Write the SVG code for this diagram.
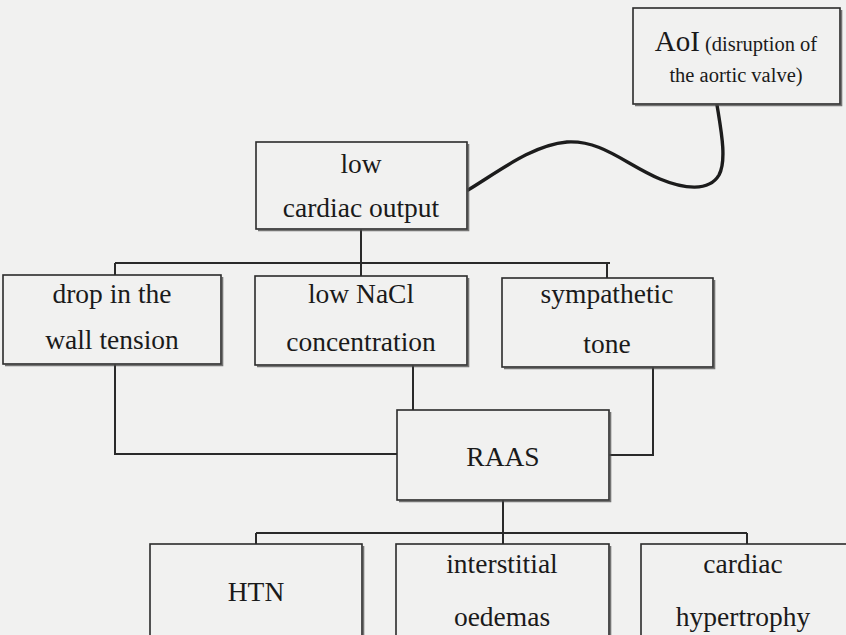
<svg xmlns="http://www.w3.org/2000/svg" width="846" height="635" viewBox="0 0 846 635">
  <defs>
    <style>
      .box { fill: #f1f1f0; stroke: #2b2b2b; stroke-width: 1.6; }
      .shade { fill: none; stroke: #4a4a4a; stroke-width: 2.6; opacity: 0.75; }
      .lbl { font-family: "Liberation Serif", "Times New Roman", serif; font-size: 27.5px; fill: #1a1a1a; text-anchor: middle; }
      .small { font-size: 20.5px; }
      .big { font-size: 29px; }
      .wire { fill: none; stroke: #2a2a2a; stroke-width: 2; }
      .curve { fill: none; stroke: #1c1c1c; stroke-width: 3.4; stroke-linecap: round; }
    </style>
  </defs>

  <rect width="846" height="635" fill="#f1f1f0"/>

  <!-- connectors -->
  <g id="connectors">
    <path class="curve" d="M717,105 C721,130 727,160 719,175 C709,192 684,189 660,179 C625,164 602,140 567,142 C532,145 498,172 468,190"/>
    <path class="wire" d="M361,229 V263 M115,263 H610 M115,263 V275 M361,263 V276 M607,263 V278"/>
    <path class="wire" d="M115,364 V454 H397"/>
    <path class="wire" d="M413,365 V410"/>
    <path class="wire" d="M653,367 V455 H609"/>
    <path class="wire" d="M503,500 V533 M256,533 H747 M256,533 V544 M503,533 V544 M747,533 V544"/>
  </g>

  <g id="aoi">
    <rect class="box" x="633" y="8" width="207" height="96"/>
    <path class="shade" d="M841,10 V105 H635"/>
    <text class="lbl" x="736" y="51"><tspan class="big">AoI</tspan><tspan class="small"> (disruption of</tspan></text>
    <text class="lbl small" x="736" y="82">the aortic valve)</text>
  </g>

  <g id="low-cardiac-output">
    <rect class="box" x="256" y="142" width="211" height="87"/>
    <path class="shade" d="M468,144 V230 H258"/>
    <text class="lbl" x="361" y="173">low</text>
    <text class="lbl" x="361" y="217">cardiac output</text>
  </g>

  <g id="wall-tension">
    <rect class="box" x="3" y="275" width="218" height="89"/>
    <path class="shade" d="M222,277 V365 H5"/>
    <text class="lbl" x="112" y="303">drop in the</text>
    <text class="lbl" x="112" y="349">wall tension</text>
  </g>

  <g id="nacl">
    <rect class="box" x="255" y="276" width="212" height="89"/>
    <path class="shade" d="M468,278 V366 H257"/>
    <text class="lbl" x="361" y="303">low NaCl</text>
    <text class="lbl" x="361" y="351">concentration</text>
  </g>

  <g id="sympathetic">
    <rect class="box" x="502" y="278" width="211" height="89"/>
    <path class="shade" d="M714,280 V368 H504"/>
    <text class="lbl" x="607" y="303">sympathetic</text>
    <text class="lbl" x="607" y="353">tone</text>
  </g>

  <g id="raas">
    <rect class="box" x="397" y="410" width="212" height="90"/>
    <path class="shade" d="M610,412 V501 H399"/>
    <text class="lbl" x="503" y="466">RAAS</text>
  </g>

  <g id="htn">
    <rect class="box" x="150" y="544" width="212" height="96"/>
    <path class="shade" d="M363,546 V640"/>
    <text class="lbl" x="256" y="601">HTN</text>
  </g>

  <g id="oedemas">
    <rect class="box" x="396" y="544" width="213" height="96"/>
    <path class="shade" d="M610,546 V640"/>
    <text class="lbl" x="502" y="573">interstitial</text>
    <text class="lbl" x="502" y="626">oedemas</text>
  </g>

  <g id="hypertrophy">
    <rect class="box" x="641" y="544" width="212" height="96"/>
    <text class="lbl" x="743" y="573">cardiac</text>
    <text class="lbl" x="743" y="626">hypertrophy</text>
  </g>
</svg>
